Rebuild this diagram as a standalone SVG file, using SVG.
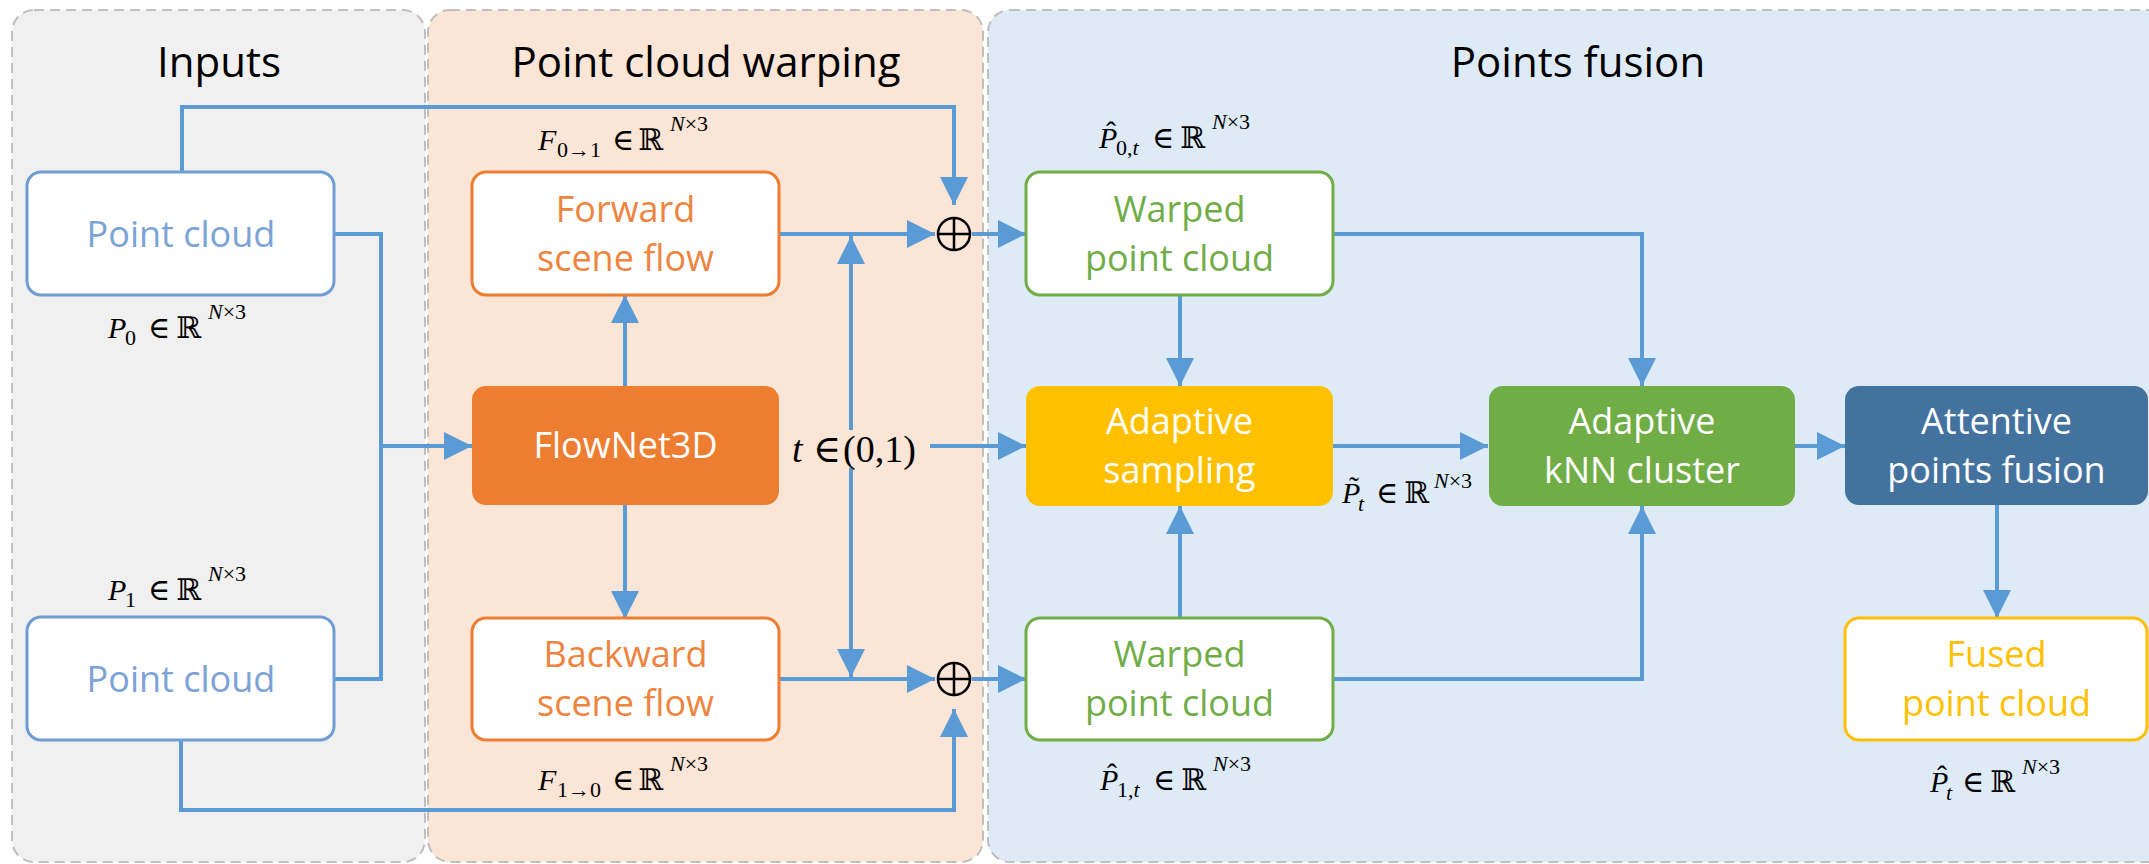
<svg xmlns="http://www.w3.org/2000/svg" width="2149" height="864" viewBox="0 0 2149 864">
<defs>
<marker id="ah" viewBox="0 0 28 28" refX="28" refY="14" markerWidth="28" markerHeight="28" markerUnits="userSpaceOnUse" orient="auto">
<path d="M0,0 L28,14 L0,28 z" fill="#5b9bd5"/>
</marker>
<style>
.panel{stroke:#bfbfbf;stroke-width:2;stroke-dasharray:10 6}
.title{font-family:"Open Sans","Noto Sans",sans-serif;font-size:42px;fill:#000;text-anchor:middle}
.lbl{font-family:"Open Sans","Noto Sans",sans-serif;font-size:36px;text-anchor:middle}
.box{stroke-width:3}
.c{fill:none;stroke:#5b9bd5;stroke-width:4}
.c.a{marker-end:url(#ah)}
.m{font-family:"Liberation Serif","Times New Roman","DejaVu Serif",serif;font-size:30px;fill:#000}
.s{font-size:22px}
.i{font-style:italic}
</style>
</defs>

<g id="panels">
<rect class="panel" x="12" y="10" width="413" height="852" rx="22" fill="#f0f0f0"/>
<rect class="panel" x="428" y="10" width="555" height="852" rx="22" fill="#fbe5d6"/>
<rect class="panel" x="988" y="10" width="1200" height="852" rx="22" fill="#deebf7"/>
<text class="title" x="219" y="77">Inputs</text>
<text class="title" x="706" y="77">Point cloud warping</text>
<text class="title" x="1578" y="77">Points fusion</text>
</g>

<g id="connectors">
<polyline class="c a" points="182,172 182,107 954,107 954,205"/>
<polyline class="c" points="334,234 381,234 381,679 334,679"/>
<line class="c a" x1="381" y1="446" x2="472" y2="446"/>
<line class="c a" x1="625" y1="386" x2="625" y2="295"/>
<line class="c a" x1="625" y1="505" x2="625" y2="619"/>
<line class="c a" x1="779" y1="234" x2="935" y2="234"/>
<line class="c a" x1="779" y1="679" x2="935" y2="679"/>
<line class="c a" x1="851" y1="430" x2="851" y2="236"/>
<line class="c a" x1="851" y1="468" x2="851" y2="677"/>
<line class="c a" x1="930" y1="446" x2="1026" y2="446"/>
<polyline class="c a" points="181,740 181,810 954,810 954,709"/>
<line class="c a" x1="972" y1="234" x2="1026" y2="234"/>
<line class="c a" x1="972" y1="679" x2="1026" y2="679"/>
<line class="c a" x1="1180" y1="295" x2="1180" y2="386"/>
<polyline class="c a" points="1333,234 1642,234 1642,386"/>
<line class="c a" x1="1333" y1="446" x2="1488" y2="446"/>
<line class="c a" x1="1795" y1="446" x2="1845" y2="446"/>
<line class="c a" x1="1180" y1="618" x2="1180" y2="506"/>
<polyline class="c a" points="1333,679 1642,679 1642,506"/>
<line class="c a" x1="1997" y1="505" x2="1997" y2="618"/>
</g>

<g id="plus-top">
<circle cx="954" cy="234" r="16" fill="none" stroke="#000" stroke-width="2.5"/>
<path d="M938,234 H970 M954,218 V250" stroke="#000" stroke-width="2.5"/>
</g>
<g id="plus-bottom">
<circle cx="954" cy="679" r="16" fill="none" stroke="#000" stroke-width="2.5"/>
<path d="M938,679 H970 M954,663 V695" stroke="#000" stroke-width="2.5"/>
</g>

<g id="pc0">
<rect class="box" x="27" y="172" width="307" height="123" rx="14" fill="#fff" stroke="#6f9dd3"/>
<text class="lbl" x="181" y="246.5" fill="#7ba3d6">Point cloud</text>
</g>
<g id="pc1">
<rect class="box" x="27" y="617" width="307" height="123" rx="14" fill="#fff" stroke="#6f9dd3"/>
<text class="lbl" x="181" y="691.5" fill="#7ba3d6">Point cloud</text>
</g>
<g id="forward">
<rect class="box" x="472" y="172" width="307" height="123" rx="14" fill="#fff" stroke="#ed7d31"/>
<text class="lbl" x="625.5" y="221.5" fill="#ee8440">Forward</text>
<text class="lbl" x="625.5" y="270.5" fill="#ee8440">scene flow</text>
</g>
<g id="flownet">
<rect x="472" y="386" width="307" height="119" rx="14" fill="#ed7d31"/>
<text class="lbl" x="625.5" y="458" fill="#fff">FlowNet3D</text>
</g>
<g id="backward">
<rect class="box" x="472" y="618" width="307" height="122" rx="14" fill="#fff" stroke="#ed7d31"/>
<text class="lbl" x="625.5" y="667" fill="#ee8440">Backward</text>
<text class="lbl" x="625.5" y="716" fill="#ee8440">scene flow</text>
</g>
<g id="warped0">
<rect class="box" x="1026" y="172" width="307" height="123" rx="14" fill="#fff" stroke="#70ad47"/>
<text class="lbl" x="1179.5" y="221.5" fill="#70ad47">Warped</text>
<text class="lbl" x="1179.5" y="270.5" fill="#70ad47">point cloud</text>
</g>
<g id="sampling">
<rect x="1026" y="386" width="307" height="120" rx="14" fill="#ffc000"/>
<text class="lbl" x="1179.5" y="433.5" fill="#fff">Adaptive</text>
<text class="lbl" x="1179.5" y="482.5" fill="#fff">sampling</text>
</g>
<g id="knn">
<rect x="1489" y="386" width="306" height="120" rx="14" fill="#70ad47"/>
<text class="lbl" x="1642" y="433.5" fill="#fff">Adaptive</text>
<text class="lbl" x="1642" y="482.5" fill="#fff">kNN cluster</text>
</g>
<g id="attentive">
<rect x="1845" y="386" width="303" height="119" rx="14" fill="#44729f"/>
<text class="lbl" x="1996.5" y="433.5" fill="#fff">Attentive</text>
<text class="lbl" x="1996.5" y="482.5" fill="#fff">points fusion</text>
</g>
<g id="warped1">
<rect class="box" x="1026" y="618" width="307" height="122" rx="14" fill="#fff" stroke="#70ad47"/>
<text class="lbl" x="1179.5" y="667" fill="#70ad47">Warped</text>
<text class="lbl" x="1179.5" y="716" fill="#70ad47">point cloud</text>
</g>
<g id="fused">
<rect class="box" x="1845" y="618" width="302" height="122" rx="14" fill="#fff" stroke="#ffc000"/>
<text class="lbl" x="1996.5" y="667" fill="#ffc000">Fused</text>
<text class="lbl" x="1996.5" y="716" fill="#ffc000">point cloud</text>
</g>

<g id="math">
<text class="m"><tspan class="i" x="538" y="150">F</tspan><tspan class="s" x="557" y="157">0→1</tspan><tspan x="612" y="150">∈</tspan><tspan x="638" y="150">ℝ</tspan><tspan class="s i" x="670" y="131">N</tspan><tspan class="s">×3</tspan></text>
<text class="m"><tspan class="i" x="538" y="790">F</tspan><tspan class="s" x="557" y="797">1→0</tspan><tspan x="612" y="790">∈</tspan><tspan x="638" y="790">ℝ</tspan><tspan class="s i" x="670" y="771">N</tspan><tspan class="s">×3</tspan></text>
<text class="m"><tspan class="i" x="108" y="338">P</tspan><tspan class="s" x="125" y="345">0</tspan><tspan x="148" y="338">∈</tspan><tspan x="176" y="338">ℝ</tspan><tspan class="s i" x="208" y="319">N</tspan><tspan class="s">×3</tspan></text>
<text class="m"><tspan class="i" x="108" y="600">P</tspan><tspan class="s" x="125" y="607">1</tspan><tspan x="148" y="600">∈</tspan><tspan x="176" y="600">ℝ</tspan><tspan class="s i" x="208" y="581">N</tspan><tspan class="s">×3</tspan></text>
<text class="m"><tspan x="1106" y="142">ˆ</tspan><tspan class="i" x="1099" y="148">P</tspan><tspan class="s" x="1116" y="155">0,</tspan><tspan class="s i">t</tspan><tspan x="1152" y="148">∈</tspan><tspan x="1180" y="148">ℝ</tspan><tspan class="s i" x="1212" y="129">N</tspan><tspan class="s">×3</tspan></text>
<text class="m"><tspan x="1107" y="784">ˆ</tspan><tspan class="i" x="1100" y="790">P</tspan><tspan class="s" x="1117" y="797">1,</tspan><tspan class="s i">t</tspan><tspan x="1153" y="790">∈</tspan><tspan x="1181" y="790">ℝ</tspan><tspan class="s i" x="1213" y="771">N</tspan><tspan class="s">×3</tspan></text>
<text class="m"><tspan x="1937" y="786">ˆ</tspan><tspan class="i" x="1930" y="792">P</tspan><tspan class="s i" x="1946" y="800">t</tspan><tspan x="1962" y="792">∈</tspan><tspan x="1990" y="792">ℝ</tspan><tspan class="s i" x="2022" y="774">N</tspan><tspan class="s">×3</tspan></text>
<text class="m"><tspan x="1349" y="497">˜</tspan><tspan class="i" x="1342" y="503">P</tspan><tspan class="s i" x="1358" y="511">t</tspan><tspan x="1376" y="503">∈</tspan><tspan x="1404" y="503">ℝ</tspan><tspan class="s i" x="1434" y="488">N</tspan><tspan class="s">×3</tspan></text>
<text class="m" style="font-size:38px"><tspan class="i" x="792" y="462">t</tspan><tspan x="813" y="462">∈</tspan><tspan x="843" y="462">(0,1)</tspan></text>
</g>
</svg>
